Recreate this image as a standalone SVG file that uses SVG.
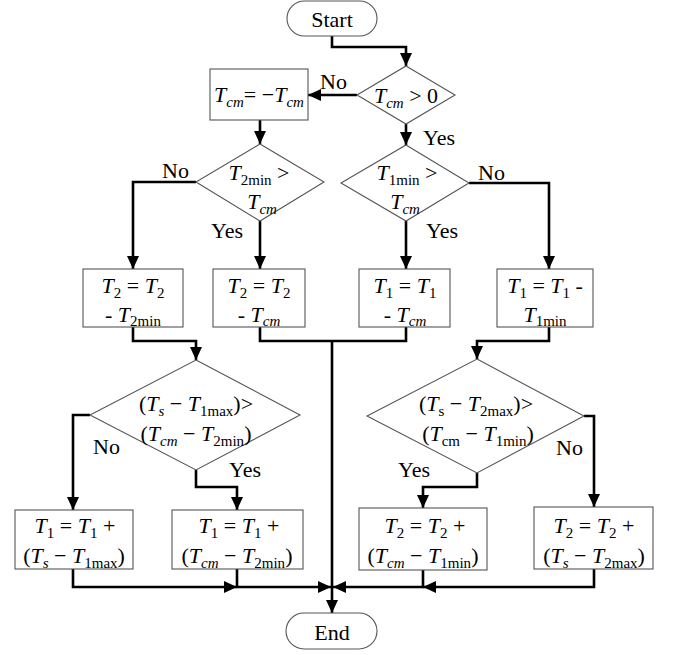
<svg xmlns="http://www.w3.org/2000/svg" width="673" height="655" viewBox="0 0 673 655">
<style>
.n{fill:#fff;stroke:#555;stroke-width:1.1}
.c{fill:none;stroke:#000;stroke-width:2.6;stroke-linejoin:miter}
.t{font-family:"Liberation Serif","Times New Roman",serif;font-size:22px;fill:#000;text-anchor:middle}
.l{font-family:"Liberation Serif","Times New Roman",serif;font-size:22px;fill:#000}
.i{font-style:italic}
.s{font-size:15px}
</style>
<defs>
<marker id="a" markerUnits="userSpaceOnUse" markerWidth="14" markerHeight="12" refX="13" refY="6" orient="auto">
<path d="M0,0 L13,6 L0,12 Z" fill="#000"/>
</marker>
</defs>
<rect width="673" height="655" fill="#fff"/>

<g id="connectors">
<polyline class="c" points="332,36 332,47 406,47 406,66" marker-end="url(#a)"/>
<polyline class="c" points="357,95 308,95" marker-end="url(#a)"/>
<polyline class="c" points="406,124 406,145" marker-end="url(#a)"/>
<polyline class="c" points="260,120 260,144" marker-end="url(#a)"/>
<polyline class="c" points="196,182 133,182 133,269" marker-end="url(#a)"/>
<polyline class="c" points="260,221 260,269" marker-end="url(#a)"/>
<polyline class="c" points="469,183 549,183 549,269" marker-end="url(#a)"/>
<polyline class="c" points="406,221 406,269" marker-end="url(#a)"/>
<polyline class="c" points="133,327 133,341 196,341 196,360" marker-end="url(#a)"/>
<polyline class="c" points="549,327 549,341 477,341 477,359" marker-end="url(#a)"/>
<polyline class="c" points="260,327 260,341 406,341 406,327"/>
<polyline class="c" points="332,341 332,613" marker-end="url(#a)"/>
<polyline class="c" points="90,415 73,415 73,510" marker-end="url(#a)"/>
<polyline class="c" points="196,470 196,487 237,487 237,510" marker-end="url(#a)"/>
<polyline class="c" points="584,416 594,416 594,507" marker-end="url(#a)"/>
<polyline class="c" points="477,473 477,487 423,487 423,508" marker-end="url(#a)"/>
<polyline class="c" points="73,569 73,587 237,587" marker-end="url(#a)"/>
<polyline class="c" points="237,569 237,587 331,587" marker-end="url(#a)"/>
<polyline class="c" points="594,569 594,587 423,587" marker-end="url(#a)"/>
<polyline class="c" points="423,570 423,587 333,587" marker-end="url(#a)"/>
</g>

<g id="labels">
<text class="l" x="320" y="89">No</text>
<text class="l" x="423" y="145">Yes</text>
<text class="l" x="162" y="178">No</text>
<text class="l" x="211" y="238">Yes</text>
<text class="l" x="478" y="180">No</text>
<text class="l" x="426" y="238">Yes</text>
<text class="l" x="93" y="454">No</text>
<text class="l" x="229" y="477">Yes</text>
<text class="l" x="556" y="455">No</text>
<text class="l" x="398" y="477">Yes</text>
</g>

<g id="start">
<rect class="n" x="287" y="1" width="90" height="35" rx="17.5"/>
<text class="t" x="332" y="27">Start</text>
</g>

<g id="d1">
<polygon class="n" points="406,66 455,95 406,124 357,95"/>
<text class="t" x="406" y="103"><tspan class="i">T</tspan><tspan class="s i" dy="5">cm</tspan><tspan dy="-5"> &gt; 0</tspan></text>
</g>

<g id="b0">
<rect class="n" x="210" y="69" width="98" height="51"/>
<text class="t" x="259" y="102"><tspan class="i">T</tspan><tspan class="s i" dy="5">cm</tspan><tspan dy="-5">= −</tspan><tspan class="i">T</tspan><tspan class="s i" dy="5">cm</tspan></text>
</g>

<g id="d2">
<polygon class="n" points="260,144 324,182 260,221 196,182"/>
<text class="t" x="259" y="180"><tspan class="i">T</tspan><tspan class="s" dy="5">2min</tspan><tspan dy="-5"> &gt;</tspan></text>
<text class="t" x="262" y="209"><tspan class="i">T</tspan><tspan class="s i" dy="5">cm</tspan></text>
</g>

<g id="d3">
<polygon class="n" points="406,145 469,183 406,221 341,183"/>
<text class="t" x="407" y="180"><tspan class="i">T</tspan><tspan class="s" dy="5">1min</tspan><tspan dy="-5"> &gt;</tspan></text>
<text class="t" x="405" y="209"><tspan class="i">T</tspan><tspan class="s i" dy="5">cm</tspan></text>
</g>

<g id="b1">
<rect class="n" x="83" y="269" width="100" height="58"/>
<text class="t" x="133" y="293"><tspan class="i">T</tspan><tspan class="s" dy="5">2</tspan><tspan dy="-5"> = </tspan><tspan class="i">T</tspan><tspan class="s" dy="5">2</tspan></text>
<text class="t" x="133" y="322"><tspan>- </tspan><tspan class="i">T</tspan><tspan class="s" dy="4">2min</tspan></text>
</g>

<g id="b2">
<rect class="n" x="213" y="269" width="92" height="58"/>
<text class="t" x="259" y="293"><tspan class="i">T</tspan><tspan class="s" dy="5">2</tspan><tspan dy="-5"> = </tspan><tspan class="i">T</tspan><tspan class="s" dy="5">2</tspan></text>
<text class="t" x="259" y="322"><tspan>- </tspan><tspan class="i">T</tspan><tspan class="s i" dy="4">cm</tspan></text>
</g>

<g id="b3">
<rect class="n" x="359" y="269" width="91" height="58"/>
<text class="t" x="405" y="293"><tspan class="i">T</tspan><tspan class="s" dy="5">1</tspan><tspan dy="-5"> = </tspan><tspan class="i">T</tspan><tspan class="s" dy="5">1</tspan></text>
<text class="t" x="405" y="322"><tspan>- </tspan><tspan class="i">T</tspan><tspan class="s i" dy="4">cm</tspan></text>
</g>

<g id="b4">
<rect class="n" x="497" y="269" width="96" height="58"/>
<text class="t" x="545" y="293"><tspan class="i">T</tspan><tspan class="s" dy="5">1</tspan><tspan dy="-5"> = </tspan><tspan class="i">T</tspan><tspan class="s" dy="5">1</tspan><tspan dy="-5"> -</tspan></text>
<text class="t" x="545" y="322"><tspan class="i">T</tspan><tspan class="s" dy="4">1min</tspan></text>
</g>

<g id="d4">
<polygon class="n" points="196,360 300,415 196,470 90,415"/>
<text class="t" x="196" y="411"><tspan>(</tspan><tspan class="i">T</tspan><tspan class="s i" dy="5">s</tspan><tspan dy="-5">  − </tspan><tspan class="i">T</tspan><tspan class="s" dy="5">1max</tspan><tspan dy="-5">)&gt;</tspan></text>
<text class="t" x="196" y="441"><tspan>(</tspan><tspan class="i">T</tspan><tspan class="s i" dy="5">cm</tspan><tspan dy="-5"> − </tspan><tspan class="i">T</tspan><tspan class="s" dy="5">2min</tspan><tspan dy="-5">)</tspan></text>
</g>

<g id="d5">
<polygon class="n" points="477,359 584,416 477,473 367,416"/>
<text class="t" x="476" y="411"><tspan>(</tspan><tspan class="i">T</tspan><tspan class="s" dy="5">s</tspan><tspan dy="-5">  − </tspan><tspan class="i">T</tspan><tspan class="s" dy="5">2max</tspan><tspan dy="-5">)&gt;</tspan></text>
<text class="t" x="478" y="441"><tspan>(</tspan><tspan class="i">T</tspan><tspan class="s" dy="5">cm</tspan><tspan dy="-5"> − </tspan><tspan class="i">T</tspan><tspan class="s" dy="5">1min</tspan><tspan dy="-5">)</tspan></text>
</g>

<g id="b5">
<rect class="n" x="15" y="510" width="118" height="59"/>
<text class="t" x="75" y="533"><tspan class="i">T</tspan><tspan class="s" dy="5">1</tspan><tspan dy="-5"> = </tspan><tspan class="i">T</tspan><tspan class="s" dy="5">1</tspan><tspan dy="-5"> +</tspan></text>
<text class="t" x="74" y="563"><tspan>(</tspan><tspan class="i">T</tspan><tspan class="s i" dy="5">s</tspan><tspan dy="-5"> − </tspan><tspan class="i">T</tspan><tspan class="s" dy="5">1max</tspan><tspan dy="-5">)</tspan></text>
</g>

<g id="b6">
<rect class="n" x="172" y="510" width="131" height="59"/>
<text class="t" x="239" y="533"><tspan class="i">T</tspan><tspan class="s" dy="5">1</tspan><tspan dy="-5"> = </tspan><tspan class="i">T</tspan><tspan class="s" dy="5">1</tspan><tspan dy="-5"> +</tspan></text>
<text class="t" x="237" y="563"><tspan>(</tspan><tspan class="i">T</tspan><tspan class="s i" dy="5">cm</tspan><tspan dy="-5"> − </tspan><tspan class="i">T</tspan><tspan class="s" dy="5">2min</tspan><tspan dy="-5">)</tspan></text>
</g>

<g id="b7">
<rect class="n" x="359" y="508" width="128" height="62"/>
<text class="t" x="425" y="533"><tspan class="i">T</tspan><tspan class="s" dy="5">2</tspan><tspan dy="-5"> = </tspan><tspan class="i">T</tspan><tspan class="s" dy="5">2</tspan><tspan dy="-5"> +</tspan></text>
<text class="t" x="423" y="563"><tspan>(</tspan><tspan class="i">T</tspan><tspan class="s i" dy="5">cm</tspan><tspan dy="-5"> − </tspan><tspan class="i">T</tspan><tspan class="s" dy="5">1min</tspan><tspan dy="-5">)</tspan></text>
</g>

<g id="b8">
<rect class="n" x="534" y="507" width="119" height="62"/>
<text class="t" x="594" y="533"><tspan class="i">T</tspan><tspan class="s" dy="5">2</tspan><tspan dy="-5"> = </tspan><tspan class="i">T</tspan><tspan class="s" dy="5">2</tspan><tspan dy="-5"> +</tspan></text>
<text class="t" x="594" y="563"><tspan>(</tspan><tspan class="i">T</tspan><tspan class="s i" dy="5">s</tspan><tspan dy="-5"> − </tspan><tspan class="i">T</tspan><tspan class="s" dy="5">2max</tspan><tspan dy="-5">)</tspan></text>
</g>

<g id="end">
<rect class="n" x="286" y="613" width="91" height="36" rx="18"/>
<text class="t" x="332" y="640">End</text>
</g>
</svg>
